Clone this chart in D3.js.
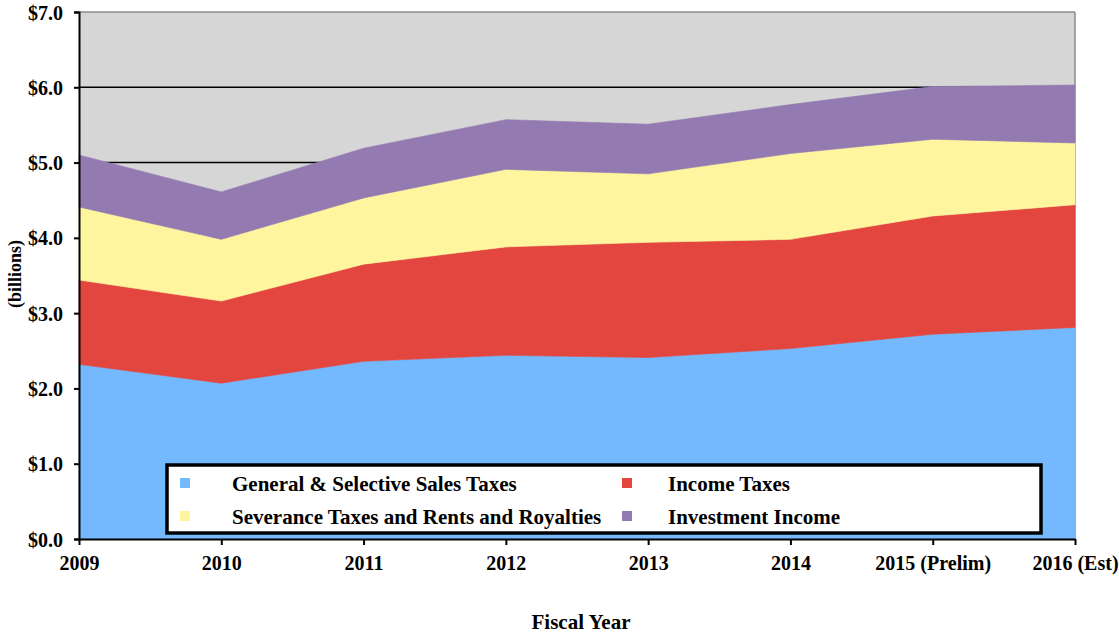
<!DOCTYPE html>
<html>
<head>
<meta charset="utf-8">
<script src="https://cdn.jsdelivr.net/npm/d3@7"></script>
<style>
  body { margin: 0; background: #fff; }
  svg text { font-family: "Liberation Serif", "Times New Roman", serif; font-weight: bold; fill: #000; }
</style>
</head>
<body>
<svg id="chart" width="1119" height="635"></svg>
<script>
const years = ["2009", "2010", "2011", "2012", "2013", "2014", "2015 (Prelim)", "2016 (Est)"];
const salesTaxes = [2.32, 2.07, 2.36, 2.44, 2.41, 2.53, 2.72, 2.81];
const incomeTaxes = [1.12, 1.09, 1.29, 1.44, 1.53, 1.45, 1.57, 1.63];
const severanceTaxes = [0.97, 0.82, 0.88, 1.03, 0.91, 1.14, 1.02, 0.82];
const investmentIncome = [0.69, 0.63, 0.66, 0.66, 0.66, 0.65, 0.70, 0.77];
const seriesNames = ["General & Selective Sales Taxes", "Income Taxes", "Severance Taxes and Rents and Royalties", "Investment Income"];
const seriesColors = ["#74b8fd", "#e3453f", "#fff59e", "#937ab1"];
const yTicks = [0, 1, 2, 3, 4, 5, 6, 7];

const svg = d3.select("#chart");
const pLeft = 79, pRight = 1075, pTop = 12, pBottom = 539;

const x = d3.scalePoint().domain(years).range([pLeft, pRight]);
const y = d3.scaleLinear().domain([0, 7]).range([pBottom, pTop]);

const keys = ["s0", "s1", "s2", "s3"];
const table = years.map((yr, i) => ({
  year: yr, s0: salesTaxes[i], s1: incomeTaxes[i], s2: severanceTaxes[i], s3: investmentIncome[i]
}));
const stacked = d3.stack().keys(keys)(table);

// plot background
svg.append("rect").attr("x", pLeft).attr("y", pTop)
  .attr("width", pRight - pLeft).attr("height", pBottom - pTop).attr("fill", "#d6d6d6");

// gridlines
svg.append("g").selectAll("line").data(yTicks.filter(d => d > 0 && d < 7)).join("line")
  .attr("x1", pLeft).attr("x2", pRight)
  .attr("y1", d => y(d)).attr("y2", d => y(d))
  .attr("stroke", "#000").attr("stroke-width", 1.5);

// top / right frame
svg.append("line").attr("x1", pLeft).attr("x2", pRight).attr("y1", y(7)).attr("y2", y(7))
  .attr("stroke", "#8c8c8c").attr("stroke-width", 1.5);
svg.append("line").attr("x1", pRight).attr("x2", pRight).attr("y1", y(7)).attr("y2", y(0))
  .attr("stroke", "#8c8c8c").attr("stroke-width", 1.5);

// areas
const area = d3.area()
  .x(d => x(d.data.year))
  .y0(d => y(d[0]))
  .y1(d => y(d[1]));
svg.append("g").selectAll("path").data(stacked).join("path")
  .attr("d", area)
  .attr("fill", (d, i) => seriesColors[i])
  .attr("stroke", (d, i) => seriesColors[i])
  .attr("stroke-width", 0.6);

// y axis
const yAxis = d3.axisLeft(y).tickValues(yTicks).tickSize(5).tickFormat(d => "$" + d.toFixed(1));
const gy = svg.append("g").attr("transform", `translate(${pLeft},0)`).call(yAxis);
gy.select(".domain").attr("stroke", "#000").attr("stroke-width", 2);
gy.selectAll(".tick line").attr("stroke", "#000").attr("stroke-width", 2);
gy.selectAll(".tick text").attr("font-size", 20).attr("x", -16).attr("dy", "0.35em")
  .style("font-family", "'Liberation Serif', serif").style("font-weight", "bold");

// x axis
const xAxis = d3.axisBottom(x).tickSize(6).tickSizeOuter(0);
const gx = svg.append("g").attr("transform", `translate(0,${pBottom})`).call(xAxis);
gx.select(".domain").attr("stroke", "#000").attr("stroke-width", 2);
gx.selectAll(".tick line").attr("stroke", "#000").attr("stroke-width", 2);
gx.selectAll(".tick text").attr("font-size", 20).attr("y", 17).attr("dy", "0.71em")
  .style("font-family", "'Liberation Serif', serif").style("font-weight", "bold");

// axis titles
svg.append("text").attr("x", 581).attr("y", 629).attr("text-anchor", "middle")
  .attr("font-size", 21).text("Fiscal Year");
svg.append("text").attr("transform", "translate(21,274) rotate(-90)").attr("text-anchor", "middle")
  .attr("font-size", 18).text("(billions)");

// legend
const lg = svg.append("g");
lg.append("rect").attr("x", 167).attr("y", 465).attr("width", 874).attr("height", 68)
  .attr("fill", "#fff").attr("stroke", "#000").attr("stroke-width", 3.5);
const legPos = [[180, 232, 0], [622, 668, 0], [180, 232, 1], [622, 668, 1]];
seriesNames.forEach((name, i) => {
  const [mx, tx, row] = legPos[i];
  const cy = 483 + row * 33;
  lg.append("rect").attr("x", mx).attr("y", cy - 5).attr("width", 10).attr("height", 10)
    .attr("fill", seriesColors[i]);
  lg.append("text").attr("x", tx).attr("y", cy + 8).attr("font-size", 21).text(name);
});
</script>
</body>
</html>
